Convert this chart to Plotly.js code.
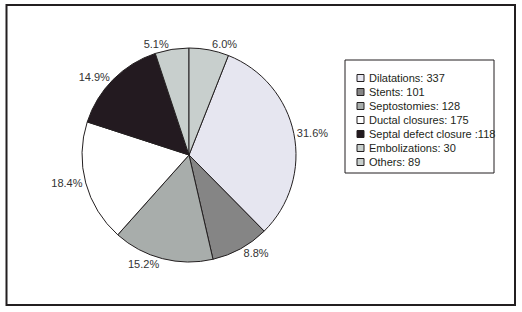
<!DOCTYPE html>
<html>
<head>
<meta charset="utf-8">
<script src="https://cdn.plot.ly/plotly-3.0.1.min.js"></script>
<style>html,body{margin:0;padding:0;background:#fff;}#chart{width:522px;height:312px;}</style>
</head>
<body>
<div id="chart"></div>
<script>
// Data
const categories = ["Dilatations", "Stents", "Septostomies", "Ductal closures", "Septal defect closure", "Embolizations", "Others"];
const counts = [337, 101, 128, 175, 118, 30, 89];
const percentages = [31.6, 8.8, 15.2, 18.4, 14.9, 5.1, 6.0];
const legendLabels = ["Dilatations: 337", "Stents: 101", "Septostomies: 128", "Ductal closures: 175", "Septal defect closure :118", "Embolizations: 30", "Others: 89"];
const colors = ["#e6e6f0", "#858585", "#a8adab", "#ffffff", "#231a20", "#c8cfcd", "#c8cfcd"];

const W = 522, H = 312;
const FONT = "Liberation Sans, Arial, sans-serif";
const ink = "#231f20";

const othersShare = percentages[percentages.length - 1] / percentages.reduce((a, b) => a + b, 0);

const trace = {
  type: "pie",
  labels: categories,
  values: percentages,
  sort: false,
  direction: "clockwise",
  rotation: othersShare * 360,
  marker: {colors: colors, line: {color: ink, width: 1}},
  textposition: "outside",
  texttemplate: "%{value:.1f}%",
  textfont: {family: FONT, size: 11, color: "#333"},
  showlegend: false,
  hoverinfo: "none",
  domain: {x: [(189 - 107) / W, (189 + 107) / W], y: [(157 - 107) / H, (157 + 107) / H]}
};

// Manual legend built from the arrays
const shapes = [
  {type: "rect", xref: "paper", yref: "paper", x0: 6.5 / W, x1: 515 / W, y0: 1 - 305 / H, y1: 1 - 5 / H, line: {color: ink, width: 2}},
  {type: "rect", xref: "paper", yref: "paper", x0: 345 / W, x1: 494 / W, y0: 1 - 173 / H, y1: 1 - 60 / H, line: {color: ink, width: 1}}
];
const annotations = [];
legendLabels.forEach((lab, i) => {
  const cy = 78 + 14 * i;
  shapes.push({type: "rect", xref: "paper", yref: "paper", x0: 357 / W, x1: 364 / W, y0: 1 - (cy + 3.5) / H, y1: 1 - (cy - 3.5) / H, fillcolor: colors[i], line: {color: ink, width: 1}});
  annotations.push({xref: "paper", yref: "paper", x: 367 / W, y: 1 - cy / H, xanchor: "left", yanchor: "middle", text: lab, showarrow: false, font: {family: FONT, size: 11, color: ink}});
});

const layout = {
  width: W, height: H,
  margin: {l: 0, r: 0, t: 0, b: 0},
  paper_bgcolor: "#fff",
  showlegend: false,
  shapes: shapes,
  annotations: annotations
};

Plotly.newPlot("chart", [trace], layout, {staticPlot: true, displayModeBar: false});
</script>
</body>
</html>
